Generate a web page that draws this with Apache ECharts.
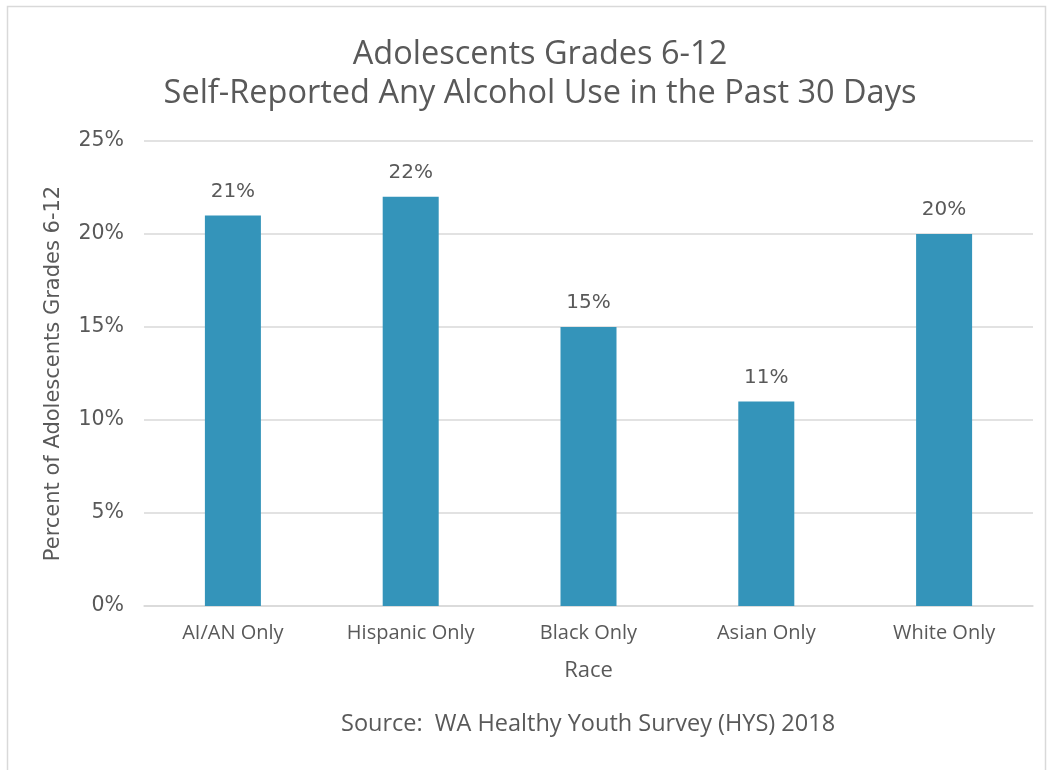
<!DOCTYPE html>
<html>
<head>
<meta charset="utf-8">
<script src="https://cdn.jsdelivr.net/npm/echarts@6/dist/echarts.min.js"></script>
<style>
  html, body { margin: 0; padding: 0; background: #fff; }
  #chart { width: 1049px; height: 770px; }
</style>
</head>
<body>
<div id="chart"></div>
<script>
var categories = ["AI/AN Only", "Hispanic Only", "Black Only", "Asian Only", "White Only"];
var values = [21, 22, 15, 11, 20];
var yTicks = [0, 5, 10, 15, 20, 25];

var narrow = "'Open Sans', sans-serif";
var wide = "'DejaVu Sans', sans-serif";
var textColor = "#595959";

var chart = echarts.init(document.getElementById("chart"));
chart.setOption({
  animation: false,
  backgroundColor: "#fff",
  graphic: [
    {
      // chart frame
      type: "rect",
      shape: { x: 7.5, y: 6.5, width: 1038, height: 770 },
      style: { fill: "none", stroke: "#d9d9d9", lineWidth: 1.5 },
      silent: true
    },
    {
      type: "text",
      left: 341,
      top: 712,
      style: {
        text: "Source:  WA Healthy Youth Survey (HYS) 2018",
        font: "23.5px " + narrow,
        fill: textColor
      }
    }
  ],
  title: {
    text: "Adolescents Grades 6-12\nSelf-Reported Any Alcohol Use in the Past 30 Days",
    left: 535,
    top: 30,
    textAlign: "center",
    textStyle: {
      fontFamily: narrow,
      fontWeight: "normal",
      fontSize: 32.5,
      lineHeight: 39,
      color: textColor
    }
  },
  grid: { left: 144, right: 16, top: 141, bottom: 164 },
  xAxis: {
    type: "category",
    data: categories,
    name: "Race",
    nameLocation: "middle",
    nameGap: 54,
    nameTextStyle: { fontFamily: narrow, fontSize: 22, color: textColor },
    axisLine: { lineStyle: { color: "#d9d9d9", width: 1.5 } },
    axisTick: { show: false },
    axisLabel: { fontFamily: narrow, fontSize: 20, color: textColor, margin: 17 }
  },
  yAxis: {
    type: "value",
    min: yTicks[0],
    max: yTicks[yTicks.length - 1],
    interval: 5,
    name: "Percent of Adolescents Grades 6-12",
    nameLocation: "middle",
    nameGap: 80,
    nameTextStyle: { fontFamily: wide, fontSize: 21, color: textColor },
    axisLine: { show: false },
    axisTick: { show: false },
    splitLine: { lineStyle: { color: "#d9d9d9", width: 1.5 } },
    axisLabel: {
      fontFamily: wide,
      fontSize: 20.5,
      color: textColor,
      margin: 20,
      formatter: "{value}%"
    }
  },
  series: [
    {
      type: "bar",
      data: values,
      barWidth: "31.5%",
      itemStyle: { color: "#3494ba" },
      label: {
        show: true,
        position: "top",
        distance: 14,
        formatter: "{c}%",
        fontFamily: wide,
        fontSize: 20,
        color: textColor
      }
    }
  ]
});
</script>
</body>
</html>
